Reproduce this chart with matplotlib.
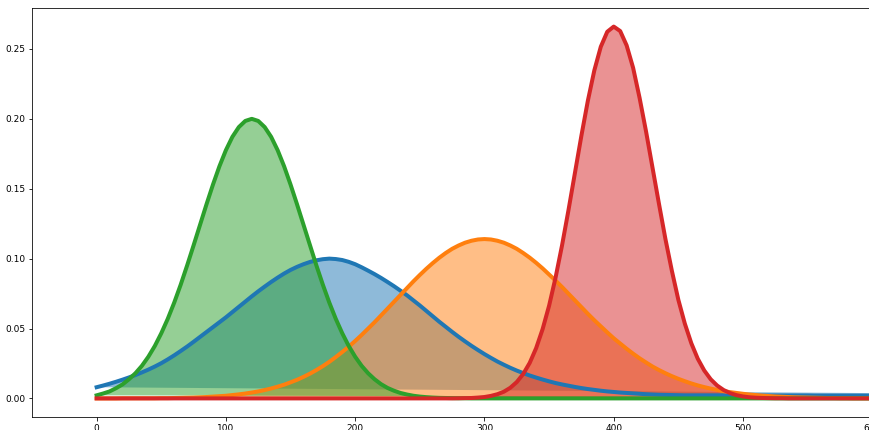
import matplotlib
matplotlib.use("Agg")
import matplotlib.pyplot as plt

# x positions: 0..600 every 5, then a sparse tail to 1000 (outside the cropped view)
x_vals = list(range(0, 601, 5)) + [650, 700, 750, 800, 850, 900, 950, 1000]

blue_vals = [
    0.0080, 0.0092, 0.0105, 0.0119, 0.0134, 0.0150, 0.0167, 0.0186, 0.0206, 0.0228,
    0.0252, 0.0279, 0.0308, 0.0339, 0.0371, 0.0405, 0.0440, 0.0475, 0.0510, 0.0545,
    0.0580, 0.0617, 0.0655, 0.0693, 0.0730, 0.0766, 0.0800, 0.0833, 0.0864, 0.0893,
    0.0919, 0.0941, 0.0960, 0.0976, 0.0988, 0.0996, 0.1000, 0.0997, 0.0990, 0.0977,
    0.0960, 0.0938, 0.0914, 0.0889, 0.0862, 0.0833, 0.0803, 0.0771, 0.0738, 0.0702,
    0.0665, 0.0626, 0.0587, 0.0549, 0.0512, 0.0476, 0.0441, 0.0408, 0.0376, 0.0346,
    0.0317, 0.0290, 0.0264, 0.0241, 0.0219, 0.0199, 0.0181, 0.0164, 0.0149, 0.0135,
    0.0122, 0.0110, 0.0100, 0.0091, 0.0082, 0.0074, 0.0067, 0.0061, 0.0055, 0.0050,
    0.0046, 0.0042, 0.0039, 0.0036, 0.0033, 0.0030, 0.0028, 0.0026, 0.0025, 0.0024,
    0.0023, 0.0022, 0.0022, 0.0022, 0.0022, 0.0022, 0.0022, 0.0022, 0.0022, 0.0022,
    0.0022, 0.0021, 0.0021, 0.0021, 0.0021, 0.0021, 0.0021, 0.0021, 0.0021, 0.0021,
    0.0021, 0.0020, 0.0020, 0.0020, 0.0020, 0.0020, 0.0020, 0.0020, 0.0020, 0.0020,
    0.0020,
    0.0019, 0.0017, 0.0016, 0.0014, 0.0013, 0.0012, 0.0011, 0.0010,
]

orange_vals = [
    0.0000, 0.0000, 0.0000, 0.0000, 0.0001, 0.0001, 0.0001, 0.0001, 0.0001, 0.0001,
    0.0002, 0.0002, 0.0003, 0.0004, 0.0005, 0.0006, 0.0008, 0.0010, 0.0013, 0.0016,
    0.0019, 0.0024, 0.0029, 0.0035, 0.0042, 0.0050, 0.0060, 0.0071, 0.0084, 0.0098,
    0.0115, 0.0133, 0.0154, 0.0177, 0.0203, 0.0231, 0.0262, 0.0296, 0.0332, 0.0370,
    0.0411, 0.0454, 0.0499, 0.0545, 0.0593, 0.0642, 0.0691, 0.0741, 0.0790, 0.0837,
    0.0883, 0.0927, 0.0968, 0.1006, 0.1040, 0.1070, 0.1094, 0.1114, 0.1128, 0.1137,
    0.1140, 0.1137, 0.1128, 0.1114, 0.1094, 0.1070, 0.1040, 0.1007, 0.0970, 0.0930,
    0.0887, 0.0843, 0.0797, 0.0749, 0.0700, 0.0652, 0.0605, 0.0559, 0.0515, 0.0472,
    0.0430, 0.0392, 0.0355, 0.0320, 0.0287, 0.0257, 0.0228, 0.0203, 0.0180, 0.0159,
    0.0140, 0.0123, 0.0107, 0.0093, 0.0081, 0.0070, 0.0061, 0.0052, 0.0045, 0.0039,
    0.0033, 0.0028, 0.0024, 0.0020, 0.0017, 0.0014, 0.0012, 0.0010, 0.0008, 0.0007,
    0.0006, 0.0005, 0.0004, 0.0003, 0.0003, 0.0002, 0.0002, 0.0001, 0.0001, 0.0001,
    0.0001,
    0.0, 0.0, 0.0, 0.0, 0.0, 0.0, 0.0, 0.0,
]

green_vals = [
    0.0022, 0.0035, 0.0050, 0.0073, 0.0100, 0.0137, 0.0180, 0.0233, 0.0298, 0.0375,
    0.0466, 0.0569, 0.0685, 0.0813, 0.0951, 0.1095, 0.1243, 0.1389, 0.1530, 0.1661,
    0.1776, 0.1871, 0.1941, 0.1985, 0.2000, 0.1985, 0.1941, 0.1871, 0.1776, 0.1661,
    0.1530, 0.1389, 0.1243, 0.1095, 0.0951, 0.0813, 0.0685, 0.0569, 0.0466, 0.0375,
    0.0298, 0.0233, 0.0180, 0.0137, 0.0102, 0.0075, 0.0055, 0.0039, 0.0028, 0.0019,
    0.0013, 0.0009, 0.0006, 0.0004, 0.0003, 0.0002, 0.0001, 0.0001, 0.0000, 0.0000,
] + [0.0] * 61 + [0.0] * 8

red_vals = [0.0] * 50 + [
    0.0000, 0.0000, 0.0000, 0.0000, 0.0000, 0.0000, 0.0001, 0.0002, 0.0003, 0.0006,
    0.0010, 0.0018, 0.0030, 0.0048, 0.0076, 0.0117, 0.0175, 0.0254, 0.0360, 0.0496,
    0.0663, 0.0864, 0.1094, 0.1347, 0.1613, 0.1880, 0.2130, 0.2347, 0.2516, 0.2623,
    0.2660, 0.2628, 0.2525, 0.2365, 0.2150, 0.1910, 0.1650, 0.1392, 0.1140, 0.0912,
    0.0705, 0.0535, 0.0395, 0.0284, 0.0200, 0.0137, 0.0092, 0.0060, 0.0038, 0.0023,
    0.0014, 0.0008, 0.0005, 0.0003, 0.0002, 0.0001, 0.0001, 0.0000, 0.0000, 0.0000,
] + [0.0] * 11 + [0.0] * 8

series = [
    (blue_vals, "C0"),
    (orange_vals, "C1"),
    (green_vals, "C2"),
    (red_vals, "C3"),
]

DPI = 72
fig = plt.figure(figsize=(869 / DPI, 430 / DPI), dpi=DPI)
# axes wider than the figure: the reference is cropped on the right
ax = fig.add_axes([32 / 869, 13 / 430, 1422 / 869, 409 / 430])

for vals, col in series:
    ax.fill(x_vals, vals, color=col, alpha=0.5, linewidth=0)
    ax.plot(x_vals, vals, color=col, linewidth=4, solid_joinstyle="round")

ax.set_xticks([0, 100, 200, 300, 400, 500, 600, 700, 800, 900, 1000])
ax.set_yticks([0.0, 0.05, 0.10, 0.15, 0.20, 0.25])
ax.set_yticklabels(["0.00", "0.05", "0.10", "0.15", "0.20", "0.25"])
ax.tick_params(labelsize=9)

fig.savefig("out.png", dpi=DPI)
